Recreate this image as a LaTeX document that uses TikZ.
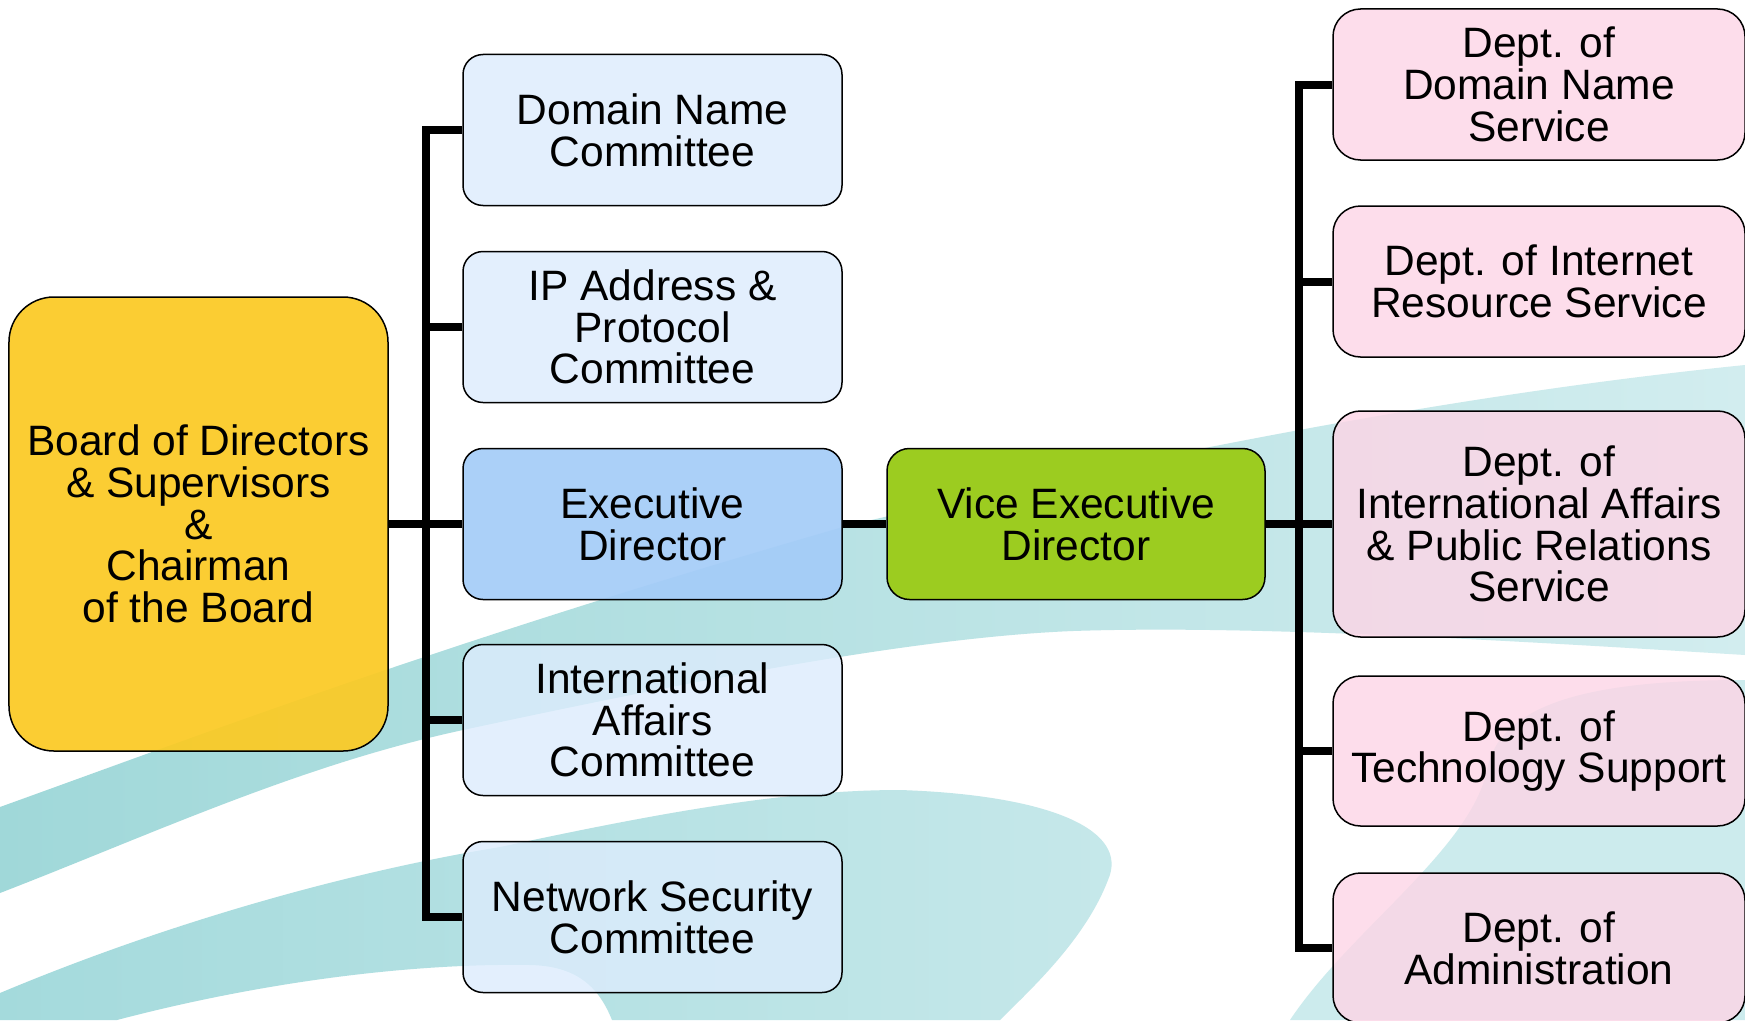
\documentclass[tikz,border=0pt]{standalone}
\usepackage{fontspec}
\setmainfont{Liberation Sans}
\definecolor{boardc}{RGB}{251,202,36}
\definecolor{commc}{RGB}{221,236,253}
\definecolor{execc}{RGB}{164,204,248}
\definecolor{vicec}{RGB}{156,204,32}
\definecolor{deptc}{RGB}{253,213,230}
\definecolor{tealA}{RGB}{160,216,217}
\definecolor{tealAl}{RGB}{210,237,239}
\definecolor{tealB}{RGB}{164,218,220}
\definecolor{tealBl}{RGB}{198,232,234}
\definecolor{tealC}{RGB}{204,235,237}
\begin{document}
\begin{tikzpicture}[x=0.4pt,y=-0.4pt,
  box/.style={draw=black,line width=0.6pt,align=center,inner sep=0pt,
    font=\fontsize{17}{16.7}\selectfont},
  boardbox/.style={box,fill=boardc,fill opacity=0.93,text opacity=1,rounded corners=18pt,
    minimum width=151.6pt,minimum height=181.6pt},
  commbox/.style={box,fill=commc,fill opacity=0.8,text opacity=1,rounded corners=8pt,
    minimum width=151.6pt,minimum height=60.4pt},
  execbox/.style={commbox,fill=execc,fill opacity=0.92},
  vicebox/.style={box,fill=vicec,rounded corners=9pt,
    minimum width=151.2pt,minimum height=60.4pt},
  deptbox/.style={box,fill=deptc,fill opacity=0.8,text opacity=1,rounded corners=11pt,
    minimum width=164.8pt,minimum height=60.4pt},
  conn/.style={line width=3.2pt,black,miter limit=10}]
\useasboundingbox (0,0) rectangle (1745,1020);
\fill[white] (0,0) rectangle (1745,1020);
\begin{scope}
\clip (0,0) rectangle (1745,1020);
% band A
\shade[left color=tealA,right color=tealAl]
  (0,807) .. controls (200,735) and (450,640) .. (850,525)
  .. controls (1150,455) and (1450,395) .. (1745,365)
  -- (1745,655) .. controls (1500,640) and (1250,625) .. (1073,631)
  .. controls (900,638) and (650,690) .. (463,730)
  .. controls (300,765) and (150,835) .. (0,893) -- cycle;
% region C
\fill[tealC] (1745,680) .. controls (1600,680) and (1500,700) .. (1487,770)
  .. controls (1470,850) and (1350,930) .. (1290,1020) -- (1745,1020) -- cycle;
% band B
\shade[left color=tealB,right color=tealBl]
  (0,993) .. controls (150,930) and (330,875) .. (500,847)
  .. controls (650,815) and (780,790) .. (900,790)
  .. controls (1050,795) and (1130,830) .. (1108,880)
  .. controls (1085,940) and (1030,990) .. (1000,1020)
  -- (612,1020) .. controls (598,985) and (575,966) .. (530,965)
  .. controls (400,963) and (250,985) .. (117,1020)
  -- (0,1020) -- cycle;
\end{scope}

\node[boardbox] (board) at (198.5,524) {Board of Directors\\ \& Supervisors\\ \&\\ Chairman\\ of the Board};

\node[commbox] (c1) at (652.5,130) {Domain Name\\ Committee};
\node[commbox] (c2) at (652.5,327) {IP Address \&\\ Protocol\\ Committee};
\node[execbox] (c3) at (652.5,524) {Executive\\ Director};
\node[commbox] (c4) at (652.5,720) {International\\ Affairs\\ Committee};
\node[commbox] (c5) at (652.5,917) {Network Security\\ Committee};

\node[vicebox] (vice) at (1076,524) {Vice Executive\\ Director};

\node[deptbox] (d1) at (1539,84.5) {Dept. of\\ Domain Name\\ Service};
\node[deptbox] (d2) at (1539,281.5) {Dept. of Internet\\ Resource Service};
\node[deptbox,minimum height=90.4pt] (d3) at (1539,524) {Dept. of\\ International Affairs\\ \& Public Relations\\ Service};
\node[deptbox,minimum height=60pt] (d4) at (1539,751) {Dept. of\\ Technology Support};
\node[deptbox,minimum height=60pt] (d5) at (1539,948) {Dept. of\\ Administration};

\coordinate (lb) at (426,0);
\coordinate (rb) at (1299,0);

\draw[conn] (c1.west) -- (c1.west -| lb) -- (c5.west -| lb) -- (c5.west);
\draw[conn] (board.east) -- (board.east -| lb);
\draw[conn] (c2.west) -- (c2.west -| lb);
\draw[conn] (c3.west) -- (c3.west -| lb);
\draw[conn] (c4.west) -- (c4.west -| lb);
\draw[conn] (c3.east) -- (vice.west);

\draw[conn] (d1.west) -- (d1.west -| rb) -- (d5.west -| rb) -- (d5.west);
\draw[conn] (vice.east) -- (d3.west);
\draw[conn] (d2.west) -- (d2.west -| rb);
\draw[conn] (d4.west) -- (d4.west -| rb);
\end{tikzpicture}
\end{document}
